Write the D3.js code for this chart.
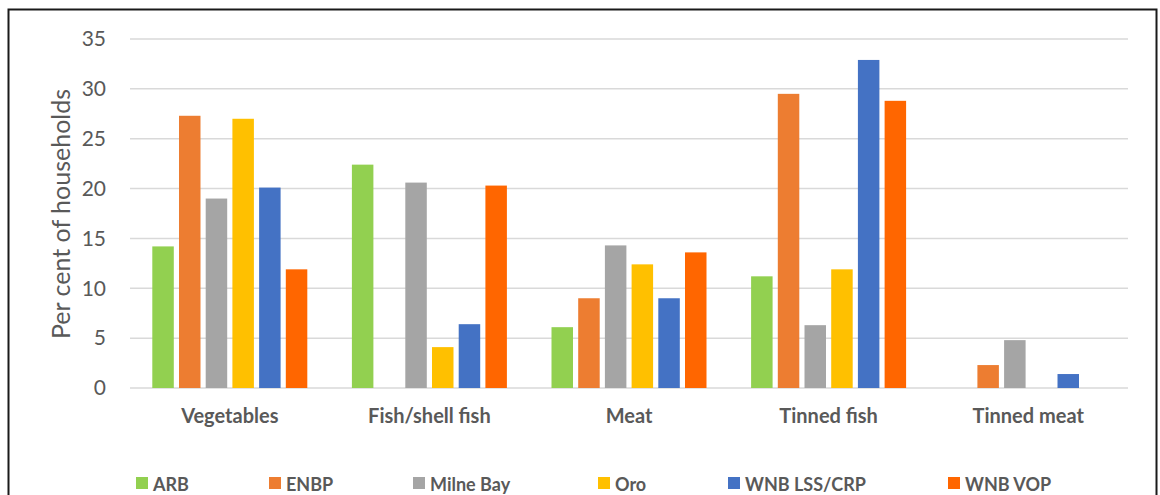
<!DOCTYPE html>
<html>
<head>
<meta charset="utf-8">
<script src="https://cdn.jsdelivr.net/npm/d3@7"></script>
<style>
  body { margin: 0; background: #fff; }
  svg { display: block; font-family: Lato, "Liberation Sans", sans-serif; }
</style>
</head>
<body>
<div id="chart"></div>
<script>
var categories = ['Vegetables', 'Fish/shell fish', 'Meat', 'Tinned fish', 'Tinned meat'];
var series = ['ARB', 'ENBP', 'Milne Bay', 'Oro', 'WNB LSS/CRP', 'WNB VOP'];
var colors = ['#92D050', '#ED7D31', '#A5A5A5', '#FFC000', '#4472C4', '#FF6600'];
// one array per series, same order as categories
var arb = [14.2, 22.4, 6.1, 11.2, 0];
var enbp = [27.3, 0, 9.0, 29.5, 2.3];
var milneBay = [19.0, 20.6, 14.3, 6.3, 4.8];
var oro = [27.0, 4.1, 12.4, 11.9, 0];
var wnbLss = [20.1, 6.4, 9.0, 32.9, 1.4];
var wnbVop = [11.9, 20.3, 13.6, 28.8, 0];
var yTicks = [0, 5, 10, 15, 20, 25, 30, 35];

(function () {
  'use strict';

  var values = [arb, enbp, milneBay, oro, wnbLss, wnbVop];

  var width = 1160, height = 495;
  var plotLeft = 130, plotRight = 1128, plotTop = 39, plotBottom = 388;

  var svg = d3.select('#chart').append('svg')
    .attr('width', width)
    .attr('height', height);

  // outer frame
  svg.append('rect')
    .attr('x', 8.5).attr('y', 9.5)
    .attr('width', 1148).attr('height', 500)
    .attr('fill', 'none')
    .attr('stroke', '#1a1a1a')
    .attr('stroke-width', 2);

  var y = d3.scaleLinear().domain([0, 35]).range([plotBottom, plotTop]);
  var x0 = d3.scaleBand().domain(categories).range([plotLeft, plotRight]).padding(0);
  var groupW = 155;
  var x1 = d3.scaleBand().domain(series).range([0, groupW]).paddingInner(0.195).paddingOuter(0);

  // gridlines
  svg.append('g').selectAll('line')
    .data(yTicks)
    .enter().append('line')
    .attr('x1', plotLeft).attr('x2', plotRight)
    .attr('y1', function (d) { return y(d); })
    .attr('y2', function (d) { return y(d); })
    .attr('stroke', '#d9d9d9')
    .attr('stroke-width', 1.5);

  // y tick labels
  svg.append('g').selectAll('text')
    .data(yTicks)
    .enter().append('text')
    .attr('x', 106)
    .attr('y', function (d) { return y(d); })
    .attr('dy', '0.35em')
    .attr('text-anchor', 'end')
    .attr('fill', '#595959')
    .style('font-size', '21px')
    .text(function (d) { return d; });

  // y axis title
  svg.append('text')
    .attr('transform', 'translate(70,214) rotate(-90)')
    .attr('text-anchor', 'middle')
    .attr('fill', '#595959')
    .style('font-size', '25px')
    .text('Per cent of households');

  // bars
  var groups = svg.append('g').selectAll('g')
    .data(categories)
    .enter().append('g')
    .attr('transform', function (d) {
      return 'translate(' + (x0(d) + (x0.bandwidth() - groupW) / 2) + ',0)';
    });

  groups.selectAll('rect')
    .data(function (d, i) {
      return series.map(function (s, j) { return {s: s, v: values[j][i], c: colors[j]}; });
    })
    .enter().append('rect')
    .attr('x', function (d) { return x1(d.s); })
    .attr('y', function (d) { return y(d.v); })
    .attr('width', x1.bandwidth())
    .attr('height', function (d) { return plotBottom - y(d.v); })
    .attr('fill', function (d) { return d.c; });

  // category labels
  svg.append('g').selectAll('text')
    .data(categories)
    .enter().append('text')
    .attr('x', function (d) { return x0(d) + x0.bandwidth() / 2; })
    .attr('y', 423)
    .attr('text-anchor', 'middle')
    .attr('fill', '#595959')
    .style('font-size', '20px')
    .style('font-weight', 'bold')
    .text(function (d) { return d; });

  // legend
  var legendX = [136, 269, 413, 598, 728, 948];
  var legend = svg.append('g').selectAll('g')
    .data(series)
    .enter().append('g')
    .attr('transform', function (d, i) { return 'translate(' + legendX[i] + ',477)'; });

  legend.append('rect')
    .attr('width', 12).attr('height', 12)
    .attr('fill', function (d, i) { return colors[i]; });

  legend.append('text')
    .attr('x', 17)
    .attr('y', 14)
    .attr('fill', '#595959')
    .style('font-size', '18px')
    .style('font-weight', 'bold')
    .text(function (d) { return d; });
})();
</script>
</body>
</html>
